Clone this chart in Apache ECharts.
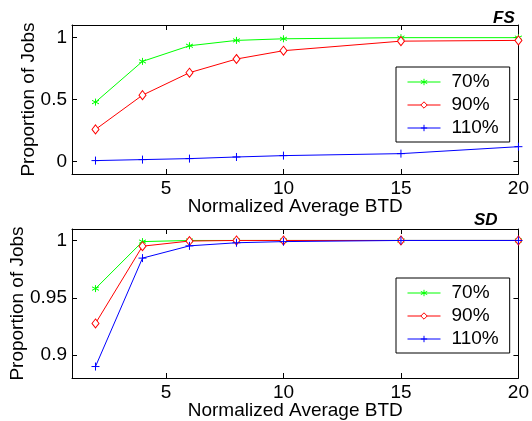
<!DOCTYPE html>
<html>
<head>
<meta charset="utf-8">
<script src="https://cdn.jsdelivr.net/npm/echarts@6/dist/echarts.min.js"></script>
<style>
  html, body { margin: 0; padding: 0; background: #fff; }
  #main { width: 532px; height: 421px; }
</style>
</head>
<body>
<div id="main"></div>
<script>
const xValues = [2, 4, 6, 8, 10, 15, 20];
const seriesNames = ["70%", "90%", "110%"];
const xTicks = [5, 10, 15, 20];

// FS panel
const fs70 = [0.479, 0.807, 0.933, 0.976, 0.989, 0.998, 0.998];
const fs90 = [0.259, 0.535, 0.716, 0.826, 0.893, 0.970, 0.976];
const fs110 = [0.008, 0.016, 0.024, 0.037, 0.048, 0.064, 0.12];
const fsTicks = [0, 0.5, 1];

// SD panel
const sd70 = [0.958, 0.999, 1.0, 1.0, 1.0, 1.0, 1.0];
const sd90 = [0.9276, 0.995, 0.9995, 1.0, 1.0, 1.0, 1.0];
const sd110 = [0.890, 0.9846, 0.9953, 0.998, 0.999, 1.0, 1.0];
const sdTicks = [0.9, 0.95, 1];

const font = "Liberation Sans";
const colors = ["#00ff00", "#ff0000", "#0000ff"];
const fills = ["#00ff00", "#ffffff", "#0000ff"];
const symbols = [
  "path://M0,-5L0,5M-4.3,-2.5L4.3,2.5M-4.3,2.5L4.3,-2.5",
  "diamond",
  "path://M-5,0L5,0M0,-5L0,5"
];
const symbolSizes = [7, [7, 9], 8];

function pairs(ys) {
  return xValues.map((x, i) => [x, ys[i]]);
}

function xAxes(gridIndex) {
  const base = {
    type: "value", gridIndex, min: 1, max: 20,
    splitLine: { show: false },
    axisLine: { show: true, onZero: false, lineStyle: { color: "#000", width: 1 } },
    axisTick: { show: true, inside: true, length: 5, customValues: xTicks, lineStyle: { color: "#000" } }
  };
  return [
    Object.assign({}, base, {
      position: "bottom",
      axisLabel: { show: true, customValues: xTicks, color: "#000", fontFamily: font, fontSize: 19, margin: 5 },
      name: "Normalized Average BTD",
      nameLocation: "middle",
      nameGap: 23,
      nameMoveOverlap: false,
      nameTextStyle: { color: "#000", fontFamily: font, fontSize: 19 }
    }),
    Object.assign({}, base, { position: "top", axisLabel: { show: false } })
  ];
}

function yAxes(gridIndex, min, max, ticks, nameGap) {
  const base = {
    type: "value", gridIndex, min, max,
    splitLine: { show: false },
    axisLine: { show: true, onZero: false, lineStyle: { color: "#000", width: 1 } },
    axisTick: { show: true, inside: true, length: 5, customValues: ticks, lineStyle: { color: "#000" } }
  };
  return [
    Object.assign({}, base, {
      position: "left",
      axisLabel: { show: true, customValues: ticks, color: "#000", fontFamily: font, fontSize: 19, margin: 5,
        formatter: v => String(+v.toFixed(2)) },
      name: "Proportion of Jobs",
      nameLocation: "middle",
      nameGap,
      nameMoveOverlap: false,
      nameTextStyle: { color: "#000", fontFamily: font, fontSize: 19 }
    }),
    Object.assign({}, base, { position: "right", axisLabel: { show: false } })
  ];
}

function makeSeries(dataSets, axisOffset) {
  return dataSets.map((ys, i) => ({
    name: seriesNames[i],
    type: "line",
    xAxisIndex: axisOffset,
    yAxisIndex: axisOffset,
    data: pairs(ys),
    symbol: symbols[i],
    symbolSize: symbolSizes[i],
    showAllSymbol: true,
    lineStyle: { color: colors[i], width: 1 },
    itemStyle: { color: fills[i], borderColor: colors[i], borderWidth: 1 },
    emphasis: { disabled: true },
    animation: false
  }));
}

function legendAt(top) {
  return {
    orient: "vertical",
    left: 396,
    top,
    data: seriesNames,
    backgroundColor: "#fff",
    borderColor: "#000",
    borderWidth: 1,
    borderRadius: 0,
    padding: [5, 11, 4, 11],
    itemWidth: 33,
    itemHeight: 8,
    itemGap: 3,
    selectedMode: false,
    lineStyle: { width: 1 },
    itemStyle: { borderWidth: 1 },
    textStyle: { color: "#000", fontFamily: font, fontSize: 19, lineHeight: 20, padding: [0, 0, 0, 6] }
  };
}

const titleStyle = { fontFamily: font, fontSize: 17, fontWeight: "bold", fontStyle: "italic", color: "#000" };

const option = {
  backgroundColor: "#fff",
  animation: false,
  title: [
    { text: "FS", left: 493, top: 10, padding: 0, textStyle: titleStyle },
    { text: "SD", left: 474, top: 212, padding: 0, textStyle: titleStyle }
  ],
  grid: [
    { left: 72, top: 25, width: 447, height: 149 },
    { left: 72, top: 229, width: 447, height: 149 }
  ],
  xAxis: [...xAxes(0), ...xAxes(1)],
  yAxis: [...yAxes(0, -0.1, 1.1, fsTicks, 34), ...yAxes(1, 0.88, 1.01, sdTicks, 45)],
  legend: [legendAt(67), legendAt(278)],
  series: [
    ...makeSeries([fs70, fs90, fs110], 0),
    ...makeSeries([sd70, sd90, sd110], 2)
  ]
};

const chart = echarts.init(document.getElementById("main"), null, { renderer: "canvas" });
chart.setOption(option);
window.onresize = function () { chart.resize(); };
</script>
</body>
</html>
